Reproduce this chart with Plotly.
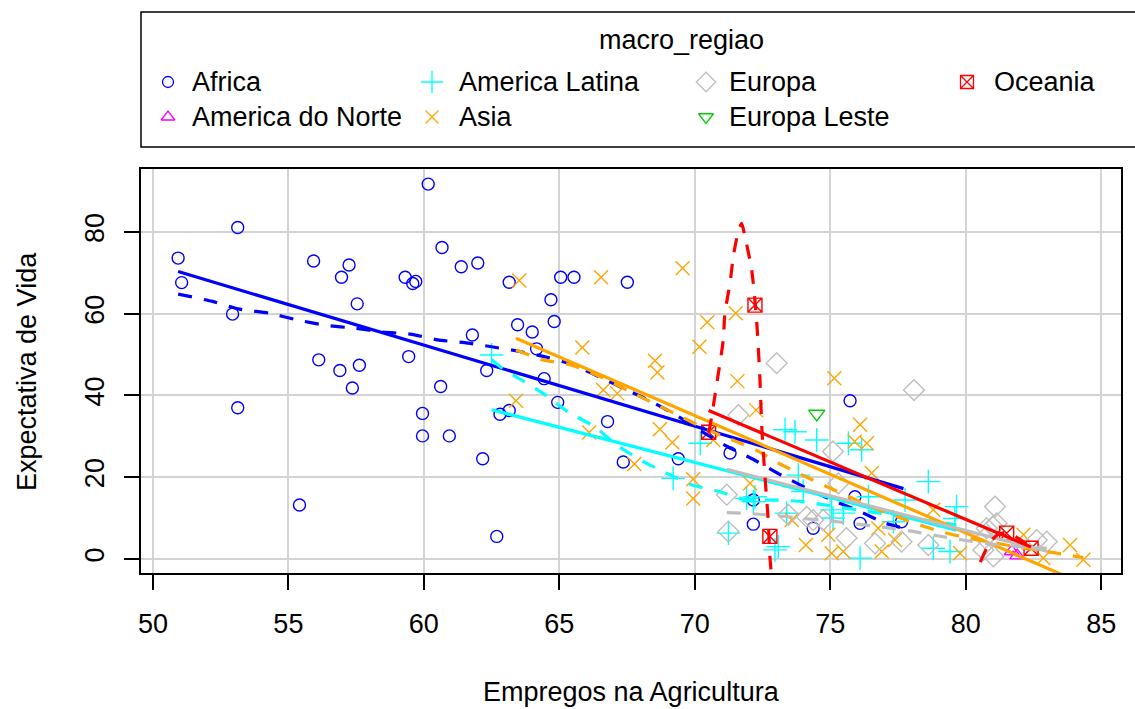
import plotly.graph_objects as go

# ---------------- data ----------------
groups = ["Africa", "America do Norte", "America Latina", "Asia", "Europa", "Europa Leste", "Oceania"]

africa_x = [60.16, 53.13, 50.93, 51.06, 52.94, 60.67, 61.38, 61.99, 63.15, 55.93, 57.24, 56.96, 59.31, 59.59,
            59.70, 57.54, 56.12, 56.90, 57.62, 57.36, 53.13, 59.44, 60.62, 59.95, 59.95, 60.94, 62.17, 55.41,
            62.69, 61.79, 63.46, 64.00, 64.69, 64.81, 65.05, 65.54, 64.16, 62.32, 64.44, 64.94, 62.81, 63.15,
            67.51, 66.78, 67.36, 69.39, 71.30, 72.16, 72.16, 74.37, 75.73, 75.91, 76.10, 77.63]
africa_y = [91.7, 81.1, 73.6, 67.6, 59.9, 76.2, 71.5, 72.4, 67.7, 72.9, 71.9, 68.9, 68.9, 67.4,
            67.9, 62.4, 48.7, 46.1, 47.4, 41.8, 37.0, 49.5, 42.2, 35.6, 30.1, 30.1, 24.5, 13.2,
            5.5, 54.8, 57.3, 55.5, 63.4, 58.1, 68.9, 68.9, 51.4, 46.1, 44.1, 38.3, 35.4, 36.3,
            67.7, 33.6, 23.7, 24.5, 25.9, 14.4, 8.5, 7.5, 38.7, 15.2, 8.7, 9.1]

amnorte_x = [81.70, 81.90]
amnorte_y = [1.8, 0.8]

amlat_x = [62.50, 69.20, 70.20, 73.33, 73.70, 74.50, 71.91, 73.82, 74.00, 75.05, 75.10, 71.24, 73.08, 73.39,
           72.22, 72.96, 75.67, 76.16, 78.62, 79.66, 79.60, 76.10, 78.80, 79.42, 75.48, 76.41, 77.76, 77.33,
           72.16]
amlat_y = [49.9, 19.7, 28.3, 31.6, 31.1, 29.1, 14.8, 20.5, 16.5, 12.0, 10.0, 6.3, 3.0, 11.2,
           15.2, 2.2, 28.3, 26.7, 18.9, 12.8, 9.9, 0.2, 2.6, 1.8, 11.2, 15.2, 14.4, 9.1,
           14.0]

asia_x = [63.52, 63.40, 66.54, 69.55, 70.46, 71.51, 70.17, 65.85, 68.53, 68.62, 71.57, 72.26, 66.62, 67.14,
          68.71, 69.17, 66.10, 67.77, 69.94, 69.94, 72.04, 70.68, 74.10, 74.93, 75.05, 73.58, 75.15, 76.10,
          76.35, 75.90, 76.53, 75.48, 76.90, 77.39, 79.79, 76.77, 78.80, 82.13, 83.85, 84.34, 82.86]
asia_y = [68.1, 38.7, 68.9, 71.1, 57.9, 60.1, 51.9, 51.7, 48.5, 45.6, 43.5, 36.4, 41.3, 40.5,
          31.7, 28.5, 30.9, 23.2, 19.5, 14.8, 18.5, 29.1, 3.4, 5.9, 1.4, 9.5, 44.2, 32.8,
          28.3, 28.7, 21.0, 1.8, 1.8, 4.6, 1.4, 7.5, 12.0, 5.9, 3.4, -0.2, 0.2]

europa_x = [73.02, 78.09, 71.61, 75.10, 71.18, 71.24, 73.45, 74.13, 74.74, 75.30, 75.60, 76.65, 77.63,
            78.62, 81.08, 81.14, 80.77, 80.65, 81.02, 82.62, 82.99, 80.71, 81.00, 74.37]
europa_y = [47.9, 41.3, 35.2, 26.3, 15.7, 6.7, 10.8, 10.3, 9.5, 18.5, 5.1, 3.8, 4.2,
            3.4, 12.8, 8.7, 7.5, 2.2, 0.6, 4.6, 4.2, 5.1, 7.9, 9.5]

eleste_x = [74.50]
eleste_y = [35.5]

oceania_x = [70.51, 72.22, 72.77, 81.51, 82.41]
oceania_y = [31.0, 62.1, 5.5, 6.3, 2.6]

# linear fits (solid lines), end points
fit_africa_x, fit_africa_y = [50.93, 77.70], [70.3, 17.2]
fit_amnorte_x, fit_amnorte_y = [81.70, 81.90], [1.8, 0.8]
fit_amlat_x, fit_amlat_y = [62.50, 79.66], [36.5, 7.0]
fit_asia_x, fit_asia_y = [63.40, 84.34], [54.0, -6.1]
fit_europa_x, fit_europa_y = [71.18, 82.99], [21.9, 1.9]
fit_oceania_x, fit_oceania_y = [70.51, 82.41], [36.3, 2.9]

# smoothers (dashed lines)
sm_africa_x = [50.93, 52.2, 53.2, 54.3, 55.3, 56.35, 57.5, 58.5, 59.5, 60.5, 61.5, 62.5, 63.5, 64.5, 65.4,
               66.5, 67.5, 68.4, 69.4, 70.3, 71.2, 72.2, 73.1, 74.1, 75.1, 76.1, 77.0, 77.7]
sm_africa_y = [64.8, 63.0, 61.1, 60.1, 58.5, 57.2, 56.4, 55.5, 55.0, 53.6, 52.9, 51.9, 50.8, 49.4, 47.7,
               44.5, 41.3, 38.5, 34.8, 31.0, 27.5, 24.2, 20.8, 17.4, 14.3, 11.6, 8.8, 7.5]
sm_amlat_x = [62.5, 62.9, 63.5, 64.4, 65.4, 66.3, 67.1, 68.1, 69.1, 69.9, 70.9, 71.9, 73.0, 74.0, 75.0,
              76.0, 77.0, 78.0, 79.0, 79.66]
sm_amlat_y = [48.7, 46.6, 44.2, 40.5, 35.6, 32.4, 27.9, 23.8, 20.5, 18.1, 16.5, 14.4, 14.4, 14.0, 13.0,
              12.0, 11.0, 10.0, 9.0, 8.3]
sm_asia_x = [63.4, 64.4, 65.4, 66.5, 67.5, 68.5, 69.5, 70.5, 71.5, 72.3, 73.1, 74.1, 75.0, 76.0, 77.0,
             78.0, 79.0, 80.0, 81.0, 82.0, 83.0, 84.34]
sm_asia_y = [51.1, 48.7, 47.5, 44.6, 41.3, 38.0, 34.8, 31.5, 28.8, 26.5, 23.4, 20.1, 17.3, 14.3, 11.5,
             9.0, 6.8, 5.2, 4.0, 2.8, 1.8, 0.3]
sm_europa_x = [71.18, 72.0, 73.0, 74.0, 75.0, 76.0, 77.0, 78.0, 79.0, 80.0, 81.0, 82.0, 82.99]
sm_europa_y = [11.3, 11.1, 10.6, 9.9, 9.3, 8.5, 7.7, 6.8, 5.6, 4.5, 3.6, 3.0, 2.6]
sm_oceania_x = [70.51, 70.56, 70.68, 70.87, 71.05, 71.11, 71.3, 71.42, 71.6, 71.73, 71.85, 72.1, 72.28,
                72.4, 72.47, 72.59, 72.71, 72.77, 72.9, 74.0, 76.5, 79.0, 80.0, 80.47, 80.9, 81.2, 81.51,
                82.0, 82.41]
sm_oceania_y = [31.0, 32.4, 37.3, 45.4, 53.6, 60.1, 67.5, 74.0, 80.0, 82.1, 78.9, 70.7, 58.5,
                44.6, 32.4, 20.1, 9.5, 0.6, -8.0, -40.0, -60.0, -30.0, -12.0, -1.9, 4.2, 6.0, 6.5,
                4.8, 2.7]

x_ticks = [50, 55, 60, 65, 70, 75, 80, 85]
y_ticks = [0, 20, 40, 60, 80]
x_title = "Empregos na Agricultura"
y_title = "Expectativa de Vida"
legend_title = "macro_regiao"

# ---------------- styling ----------------
colors = ["#0000FF", "#FF00FF", "#00FFFF", "#FFA500", "#BEBEBE", "#00CD00", "#FF0000"]
symbols = ["circle-open", "triangle-up-open", "cross-thin-open", "x-thin-open",
           "diamond-open", "triangle-down-open", "square-x-open"]
sizes = [12, 13, 17, 14, 16, 14, 14]

pts = [(africa_x, africa_y), (amnorte_x, amnorte_y), (amlat_x, amlat_y), (asia_x, asia_y),
       (europa_x, europa_y), (eleste_x, eleste_y), (oceania_x, oceania_y)]
fits = [(fit_africa_x, fit_africa_y), (fit_amnorte_x, fit_amnorte_y), (fit_amlat_x, fit_amlat_y),
        (fit_asia_x, fit_asia_y), (fit_europa_x, fit_europa_y), None, (fit_oceania_x, fit_oceania_y)]
smooths = [(sm_africa_x, sm_africa_y), None, (sm_amlat_x, sm_amlat_y), (sm_asia_x, sm_asia_y),
           (sm_europa_x, sm_europa_y), None, (sm_oceania_x, sm_oceania_y)]

FONT = "Liberation Sans, Arial, sans-serif"
FS = 27
W, H = 1135, 709
L, R, T, B = 141, 14, 12, 136          # margins (px)
PLOT_TOP = 169                         # top of the main panel (px)
LEG_BOTTOM = 147                       # bottom of legend box (px)
ph = H - T - B


def py(p):
    return (H - B - p) / ph


fig = go.Figure()

# points
for g, (xs, ys), c, s, sz in zip(groups, pts, colors, symbols, sizes):
    fig.add_trace(go.Scatter(x=xs, y=ys, mode="markers", name=g, showlegend=False,
                             marker=dict(symbol=s, size=sz, color=c, line=dict(color=c, width=1.4))))

# lines
for g, f, sm, c in zip(groups, fits, smooths, colors):
    if f is not None:
        fig.add_trace(go.Scatter(x=f[0], y=f[1], mode="lines", showlegend=False,
                                 line=dict(color=c, width=3.2)))
    if sm is not None:
        fig.add_trace(go.Scatter(x=sm[0], y=sm[1], mode="lines", showlegend=False,
                                 line=dict(color=c, width=3.2, dash="14px,12px", shape="spline", smoothing=0.6)))

# legend (drawn in its own hidden axes, pixel units)
sym_x = [168, 432, 706, 967]
txt_x = [190, 457, 727, 992]
row_y = [82, 117]
for i, (g, c, s, sz) in enumerate(zip(groups, colors, symbols, sizes)):
    col, row = i // 2, i % 2
    fig.add_trace(go.Scatter(x=[sym_x[col]], y=[row_y[row]], mode="markers", showlegend=False,
                             xaxis="x2", yaxis="y2", hoverinfo="skip",
                             marker=dict(symbol=s, size=sz - 1, color=c, line=dict(color=c, width=1.3))))
    fig.add_annotation(x=txt_x[col], y=row_y[row], xref="x2", yref="y2", text=g, showarrow=False,
                       xanchor="left", yanchor="middle", font=dict(family=FONT, size=FS, color="black"))
fig.add_annotation(x=681, y=40, xref="x2", yref="y2", text=legend_title, showarrow=False,
                   xanchor="center", yanchor="middle", font=dict(family=FONT, size=FS, color="black"))
fig.add_shape(type="rect", xref="paper", yref="paper", x0=0, x1=(1221 - L) / (W - L - R),
              y0=py(LEG_BOTTOM), y1=1.0, line=dict(color="black", width=1.5), layer="above")

# axis titles
fig.add_annotation(x=0.5, y=py(692), xref="paper", yref="paper", text=x_title, showarrow=False,
                   xanchor="center", yanchor="middle", font=dict(family=FONT, size=FS, color="black"))
fig.add_annotation(x=(27 - L) / (W - L - R), y=py(372), xref="paper", yref="paper", text=y_title,
                   showarrow=False, textangle=-90, xanchor="center", yanchor="middle",
                   font=dict(family=FONT, size=FS, color="black"))

axis_common = dict(showgrid=True, gridcolor="#D3D3D3", gridwidth=1.5, zeroline=False,
                   showline=True, linecolor="black", linewidth=1.5, mirror=True,
                   ticks="outside", ticklen=15, tickwidth=1.5, tickcolor="black",
                   tickfont=dict(family=FONT, size=FS, color="black"))

fig.update_layout(
    width=W, height=H, margin=dict(l=L, r=R, t=T, b=B),
    paper_bgcolor="white", plot_bgcolor="white", showlegend=False,
    xaxis=dict(range=[49.56, 85.73], tickvals=x_ticks, ticklabelstandoff=11, **axis_common),
    yaxis=dict(range=[-3.45, 95.4], tickvals=y_ticks, tickangle=-90, ticklabelstandoff=9,
               domain=[0, py(PLOT_TOP)], **axis_common),
    xaxis2=dict(range=[L, W - R], visible=False, anchor="y2", fixedrange=True),
    yaxis2=dict(range=[LEG_BOTTOM, T], visible=False, anchor="x2", domain=[py(LEG_BOTTOM), 1.0],
                fixedrange=True),
)

fig.write_html("out.html")
